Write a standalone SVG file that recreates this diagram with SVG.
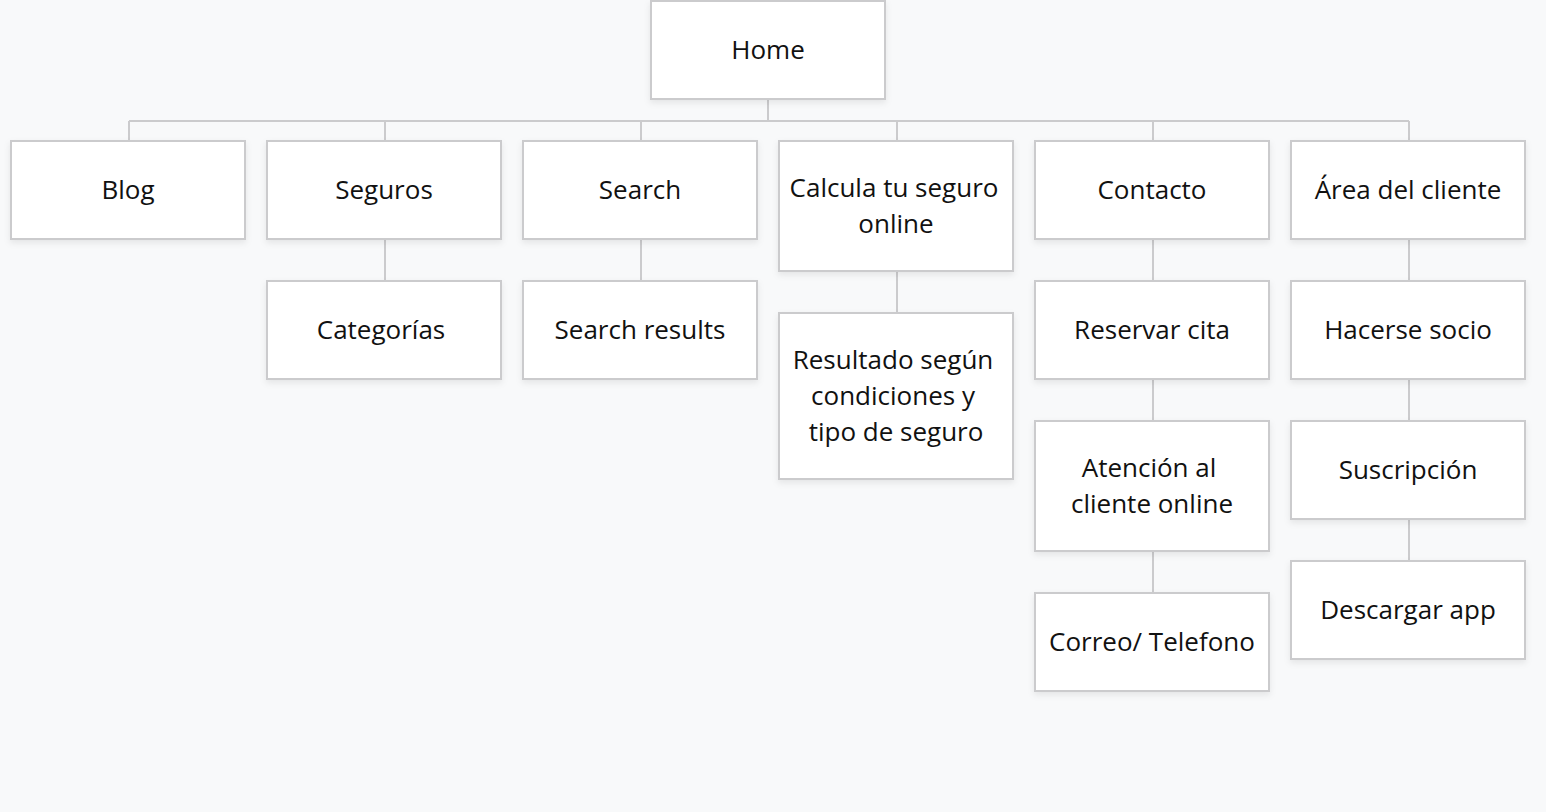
<svg xmlns="http://www.w3.org/2000/svg" width="1546" height="812" viewBox="0 0 1546 812">
<defs>
<filter id="sh" x="-10%" y="-10%" width="120%" height="130%">
<feDropShadow dx="0" dy="3" stdDeviation="3" flood-color="#000" flood-opacity="0.08"/>
</filter>
<style>
.box{fill:#ffffff;stroke:#cbcbcd;stroke-width:2;filter:url(#sh)}
.t{font-family:"Open Sans","Noto Sans",sans-serif;font-size:26px;fill:#111;text-anchor:middle}
.c{fill:none;stroke:#cbcbcd;stroke-width:2}
</style>
</defs>
<rect width="1546" height="812" fill="#f8f9fa"/>
<g id="connectors">
<path class="c" d="M768 99V121M129 121H1409M129 121V141M385 121V141M641 121V141M897 121V141M1153 121V141M1409 121V141"/>
<path class="c" d="M385 239V281M641 239V281M897 271V313M1153 239V281M1153 379V421M1153 551V593M1409 239V281M1409 379V421M1409 519V561"/>
</g>
<g id="home"><rect class="box" x="651" y="1" width="234" height="98"/><text class="t" x="768" y="58.5">Home</text></g>
<g id="blog"><rect class="box" x="11" y="141" width="234" height="98"/><text class="t" x="128" y="198.5">Blog</text></g>
<g id="seguros"><rect class="box" x="267" y="141" width="234" height="98"/><text class="t" x="384" y="198.5">Seguros</text></g>
<g id="search"><rect class="box" x="523" y="141" width="234" height="98"/><text class="t" x="640" y="198.5">Search</text></g>
<g id="calcula"><rect class="box" x="779" y="141" width="234" height="130"/><text class="t" x="894" y="196.5">Calcula tu seguro</text><text class="t" x="896" y="232.5">online</text></g>
<g id="contacto"><rect class="box" x="1035" y="141" width="234" height="98"/><text class="t" x="1152" y="198.5">Contacto</text></g>
<g id="area"><rect class="box" x="1291" y="141" width="234" height="98"/><text class="t" x="1408" y="198.5">Área del cliente</text></g>
<g id="categorias"><rect class="box" x="267" y="281" width="234" height="98"/><text class="t" x="381" y="338.5">Categorías</text></g>
<g id="search-results"><rect class="box" x="523" y="281" width="234" height="98"/><text class="t" x="640" y="338.5">Search results</text></g>
<g id="resultado"><rect class="box" x="779" y="313" width="234" height="166"/><text class="t" x="893" y="368.5">Resultado según</text><text class="t" x="893" y="404.5">condiciones y</text><text class="t" x="896" y="440.5">tipo de seguro</text></g>
<g id="reservar"><rect class="box" x="1035" y="281" width="234" height="98"/><text class="t" x="1152" y="338.5">Reservar cita</text></g>
<g id="atencion"><rect class="box" x="1035" y="421" width="234" height="130"/><text class="t" x="1149" y="476.5">Atención al</text><text class="t" x="1152" y="512.5">cliente online</text></g>
<g id="correo"><rect class="box" x="1035" y="593" width="234" height="98"/><text class="t" x="1152" y="650.5">Correo/ Telefono</text></g>
<g id="hacerse"><rect class="box" x="1291" y="281" width="234" height="98"/><text class="t" x="1408" y="338.5">Hacerse socio</text></g>
<g id="suscripcion"><rect class="box" x="1291" y="421" width="234" height="98"/><text class="t" x="1408" y="478.5">Suscripción</text></g>
<g id="descargar"><rect class="box" x="1291" y="561" width="234" height="98"/><text class="t" x="1408" y="618.5">Descargar app</text></g>
</svg>
